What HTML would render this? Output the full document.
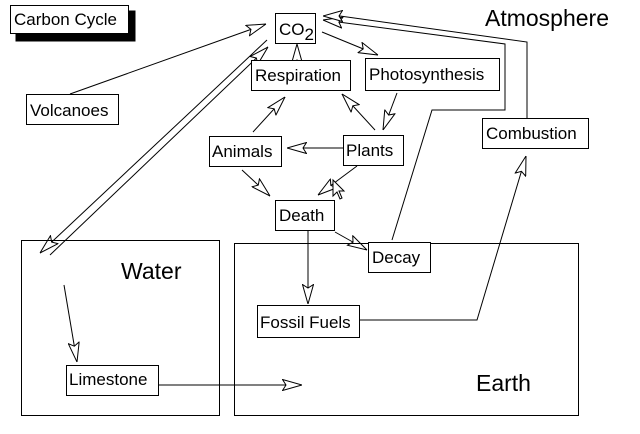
<!DOCTYPE html>
<html><head><style>
body{margin:0;background:#fff;width:640px;height:434px;overflow:hidden}
svg{display:block}
text{font-family:"Liberation Sans",sans-serif;fill:#000}
</style></head><body>
<svg width="640" height="434" viewBox="0 0 640 434">
<defs>
<marker id="a" viewBox="0 0 20 12" refX="20" refY="6" markerWidth="20" markerHeight="12" markerUnits="userSpaceOnUse" orient="auto">
<path d="M0.5,0.5 L20,6 L0.5,11.5 L4,6 Z" fill="#fff" stroke="#000" stroke-width="1"/>
</marker>
</defs>
<g fill="none" stroke="#000" stroke-width="1">
<rect x="16" y="11" width="119" height="30" fill="#000"/>
<rect x="10.5" y="5.5" width="118" height="28" fill="#fff"/>

<line x1="70" y1="94" x2="266" y2="24" marker-end="url(#a)"/>
<line x1="267" y1="40" x2="40" y2="253" marker-end="url(#a)"/>
<line x1="50" y1="255" x2="268" y2="47" marker-end="url(#a)"/>
<line x1="297" y1="60" x2="297" y2="44" marker-end="url(#a)"/>
<line x1="322" y1="32" x2="378" y2="55" marker-end="url(#a)"/>
<line x1="397" y1="93" x2="383" y2="130" marker-end="url(#a)"/>
<line x1="375" y1="130" x2="342" y2="94" marker-end="url(#a)"/>
<line x1="253" y1="132" x2="285" y2="97" marker-end="url(#a)"/>
<line x1="343" y1="148" x2="287" y2="148" marker-end="url(#a)"/>
<line x1="242" y1="170" x2="270" y2="196" marker-end="url(#a)"/>
<line x1="357" y1="166" x2="318" y2="195" marker-end="url(#a)"/>
<line x1="335" y1="232" x2="367" y2="250" marker-end="url(#a)"/>
<line x1="308" y1="230" x2="308" y2="304" marker-end="url(#a)"/>
<polyline points="392,240 432,110 505,110 505,44 323,20" marker-end="url(#a)"/>
<polyline points="527,118 527,42 340,16 323,16" marker-end="url(#a)"/>
<polyline points="359,320 477,320 526,156" marker-end="url(#a)"/>
<line x1="64" y1="285" x2="77" y2="362" marker-end="url(#a)"/>
<line x1="158" y1="385" x2="302" y2="385" marker-end="url(#a)"/>

<rect x="275.5" y="13.5" width="40" height="30" fill="#fff"/>
<rect x="251.5" y="60.5" width="99" height="30" fill="#fff"/>
<rect x="365.5" y="58.5" width="134" height="32" fill="#fff"/>
<rect x="26.5" y="94.5" width="92" height="30" fill="#fff"/>
<rect x="209.5" y="136.5" width="72" height="30" fill="#fff"/>
<rect x="343.5" y="135.5" width="60" height="30" fill="#fff"/>
<rect x="482.5" y="118.5" width="106" height="30" fill="#fff"/>
<rect x="275.5" y="200.5" width="59" height="30" fill="#fff"/>
<rect x="21.5" y="240.5" width="198" height="175"/>
<rect x="234.5" y="243.5" width="344" height="172"/>
<rect x="368.5" y="242.5" width="62" height="30" fill="#fff"/>
<rect x="257.5" y="305.5" width="102" height="32" fill="#fff"/>
<rect x="66.5" y="365.5" width="92" height="30" fill="#fff"/>
<path d="M333,180 L333,196 L337,192 L340,199 L342,198 L339,191 L344,191 Z" fill="#fff"/>
</g>
<g font-size="17">
<text x="14" y="25">Carbon Cycle</text>
<text x="279" y="35">CO<tspan dy="5">2</tspan></text>
<text x="255" y="81">Respiration</text>
<text x="369" y="80">Photosynthesis</text>
<text x="30" y="116">Volcanoes</text>
<text x="212" y="157">Animals</text>
<text x="346" y="156">Plants</text>
<text x="486" y="139">Combustion</text>
<text x="279" y="221">Death</text>
<text x="372" y="263">Decay</text>
<text x="260" y="328">Fossil Fuels</text>
<text x="69" y="385">Limestone</text>
</g>
<g font-size="23">
<text x="485" y="26">Atmosphere</text>
<text x="121" y="279">Water</text>
<text x="476" y="391">Earth</text>
</g>
</svg>
</body></html>
